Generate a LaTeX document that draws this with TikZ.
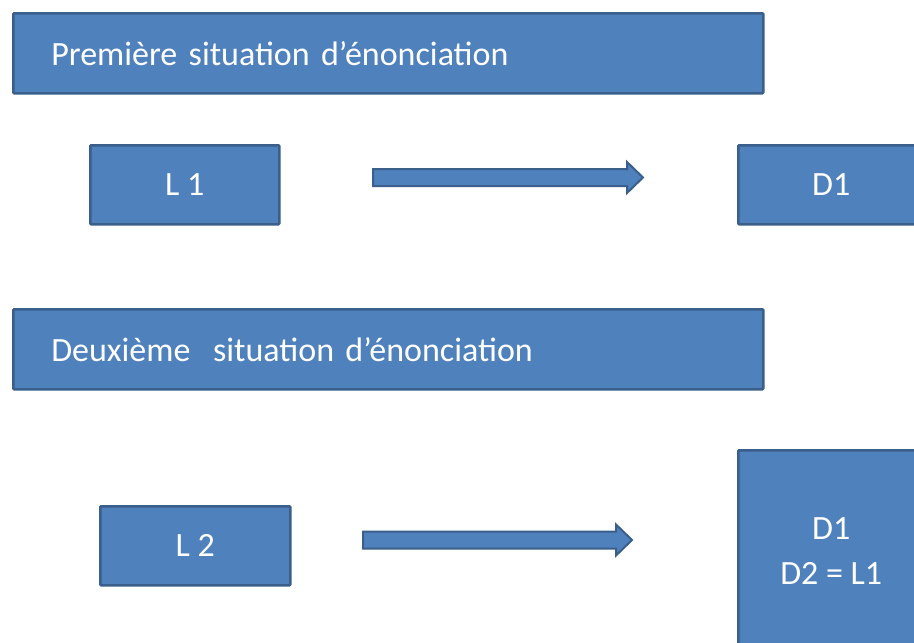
\documentclass[tikz,border=0pt]{standalone}
\usepackage{fontspec}
\setmainfont{Carlito}
\usetikzlibrary{calc}
\definecolor{boxfill}{HTML}{4F81BD}
\definecolor{boxline}{HTML}{3A5F8B}
\begin{document}
\begin{tikzpicture}[x=1pt,y=-1pt,
  box/.style={draw=boxline, fill=boxfill, line width=2.5pt, rounded corners=1pt,
    text=white, font=\fontsize{34}{40}\selectfont, inner sep=0pt, anchor=north west},
  titlebox/.style={box, inner xsep=38pt, text width=674pt, align=left, minimum height=80pt},
  blockarrow/.style={draw=boxline, fill=boxfill, line width=2pt, line join=miter,
    to path={($(\tikztostart)+(0,-8.5)$) -- ($(\tikztotarget)+(-16,-8.5)$)
      -- ($(\tikztotarget)+(-16,-15.5)$) -- (\tikztotarget)
      -- ($(\tikztotarget)+(-16,15.5)$) -- ($(\tikztotarget)+(-16,8.5)$)
      -- ($(\tikztostart)+(0,8.5)$) -- cycle}}]
\useasboundingbox (0,0) rectangle (914,643);
\clip (0,0) rectangle (914,643);
\fill[white] (0,0) rectangle (914,643);

\node[titlebox] (t1) at (12,12) {Première situation d’énonciation};
\node[box, minimum width=189pt, minimum height=79pt] (l1) at (89,144) {L 1};
\node[box, minimum width=186pt, minimum height=79pt] (d1) at (737,144) {D1};
\coordinate (a1s) at (373,177.5);
\coordinate (a1e) at (643,177.5);
\draw[blockarrow] (a1s) to (a1e);

\node[titlebox] (t2) at (12,308) {Deuxième\ \ situation d’énonciation};
\node[box, minimum width=190pt, minimum height=79pt] (l2) at (99,505) {L 2};
\node[box, minimum width=186pt, minimum height=202pt, align=center,
  font=\fontsize{34}{45}\selectfont] (d2) at (737,449) {D1\\D2 = L1};
\coordinate (a2s) at (363,540);
\coordinate (a2e) at (632,540);
\draw[blockarrow] (a2s) to (a2e);
\end{tikzpicture}
\end{document}
